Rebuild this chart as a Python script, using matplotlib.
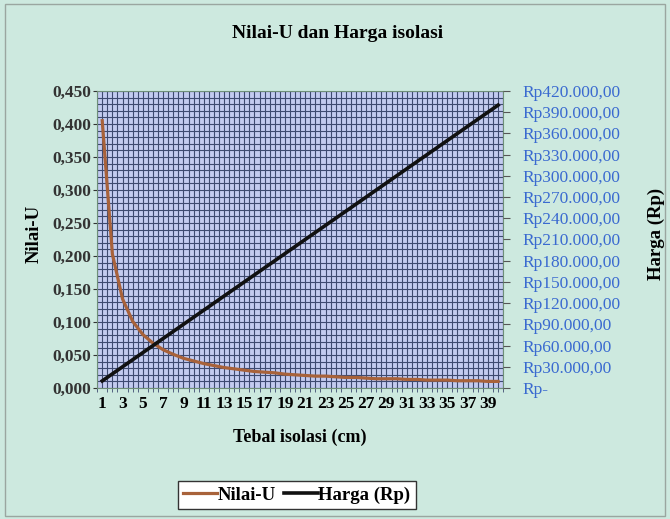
import matplotlib.pyplot as plt
from matplotlib.ticker import MultipleLocator, FixedLocator, FuncFormatter
from matplotlib.patches import Rectangle

plt.rcParams['font.family'] = ['Liberation Serif', 'DejaVu Serif']

# data
tebal = list(range(1, 41))
nilai_u = [0.405, 0.203, 0.135, 0.101, 0.081, 0.068, 0.058, 0.051, 0.045, 0.041,
           0.037, 0.034, 0.031, 0.029, 0.027, 0.025, 0.024, 0.023, 0.021, 0.020,
           0.019, 0.018, 0.018, 0.017, 0.016, 0.016, 0.015, 0.014, 0.014, 0.014,
           0.013, 0.013, 0.012, 0.012, 0.012, 0.011, 0.011, 0.011, 0.010, 0.010]
harga = [10000, 20000, 30000, 40000, 50000, 60000, 70000, 80000, 90000, 100000,
         110000, 120000, 130000, 140000, 150000, 160000, 170000, 180000, 190000, 200000,
         210000, 220000, 230000, 240000, 250000, 260000, 270000, 280000, 290000, 300000,
         310000, 320000, 330000, 340000, 350000, 360000, 370000, 380000, 390000, 400000]
x_labels = [str(t) for t in tebal]

bg = '#cde9df'
fig = plt.figure(figsize=(6.7, 5.19), dpi=100, facecolor=bg)
ax = fig.add_axes([0.145, 0.2524, 0.606, 0.5723])
ax.set_facecolor('#c3cbef')

pos = list(range(len(tebal)))
ax.plot(pos, nilai_u, color='#a8623a', lw=2.3, label='Nilai-U', zorder=3)
ax.set_xlim(-0.5, len(tebal) - 0.5)
ax.set_ylim(0, 0.45)

# grid
ax.xaxis.set_minor_locator(MultipleLocator(0.5))
ax.yaxis.set_major_locator(MultipleLocator(0.05))
ax.yaxis.set_minor_locator(MultipleLocator(0.01))
ax.grid(which='both', axis='both', color='#3e4a70', lw=0.8)
ax.set_axisbelow(True)

ax.xaxis.set_major_locator(FixedLocator(pos[::2]))
ax.set_xticklabels(x_labels[::2], fontsize=12.5, fontweight='bold')
ax.tick_params(axis='x', which='major', length=0, pad=6)
ax.tick_params(axis='x', which='minor', length=3, color='#3e4a70')
ax.yaxis.set_major_formatter(FuncFormatter(lambda v, p: f'{v:.3f}'.replace('.', ',')))
ax.tick_params(axis='y', which='major', labelsize=12.5, length=3, pad=1, colors='#333333')
ax.tick_params(axis='y', which='minor', length=0)
for lab in ax.get_yticklabels():
    lab.set_fontweight('bold')
for s in ax.spines.values():
    s.set_color('#6f8f78')

ax.set_ylabel('Nilai-U', fontsize=13.5, fontweight='bold')
ax.yaxis.set_label_coords(-0.135, 0.52)
ax.set_xlabel('Tebal isolasi (cm)', fontsize=13, fontweight='bold', labelpad=12)
fig.text(338 / 670, 1 - 34 / 519, 'Nilai-U dan Harga isolasi', fontsize=14, fontweight='bold',
         ha='center', va='center')

ax2 = ax.twinx()
ax2.plot(pos, harga, color='#111111', lw=2.6, label='Harga (Rp)', zorder=4)
ax2.set_ylim(0, 420000)
ax2.yaxis.set_major_locator(MultipleLocator(30000))


def rp(v, p):
    if v == 0:
        return 'Rp-'
    return 'Rp' + f'{int(v):,}'.replace(',', '.') + ',00'


ax2.yaxis.set_major_formatter(FuncFormatter(rp))
ax2.tick_params(axis='y', labelsize=12.5, labelcolor='#3a6ad0', length=5, pad=9, color='#555555')
ax2.set_ylabel('Harga (Rp)', fontsize=13.5, fontweight='bold')
ax2.yaxis.set_label_coords(1.357, 0.52)
for s in ax2.spines.values():
    s.set_visible(False)

handles = ax.get_lines() + ax2.get_lines()
leg = fig.legend(handles, ['Nilai-U', 'Harga (Rp)'], loc='center', bbox_to_anchor=(297 / 670, 1 - 495 / 519),
                 ncol=2, fancybox=False, edgecolor='#333333', framealpha=1, facecolor='white',
                 prop={'weight': 'bold', 'size': 13.5}, handlelength=1.8, handletextpad=0.05,
                 columnspacing=0.4, borderpad=0.3)

fig.patches.append(Rectangle((5 / 670, 3 / 519), 660 / 670, 512 / 519, transform=fig.transFigure,
                             fill=False, edgecolor='#9aa6a0', lw=1))

fig.savefig('out.png', dpi=100, facecolor=bg)
